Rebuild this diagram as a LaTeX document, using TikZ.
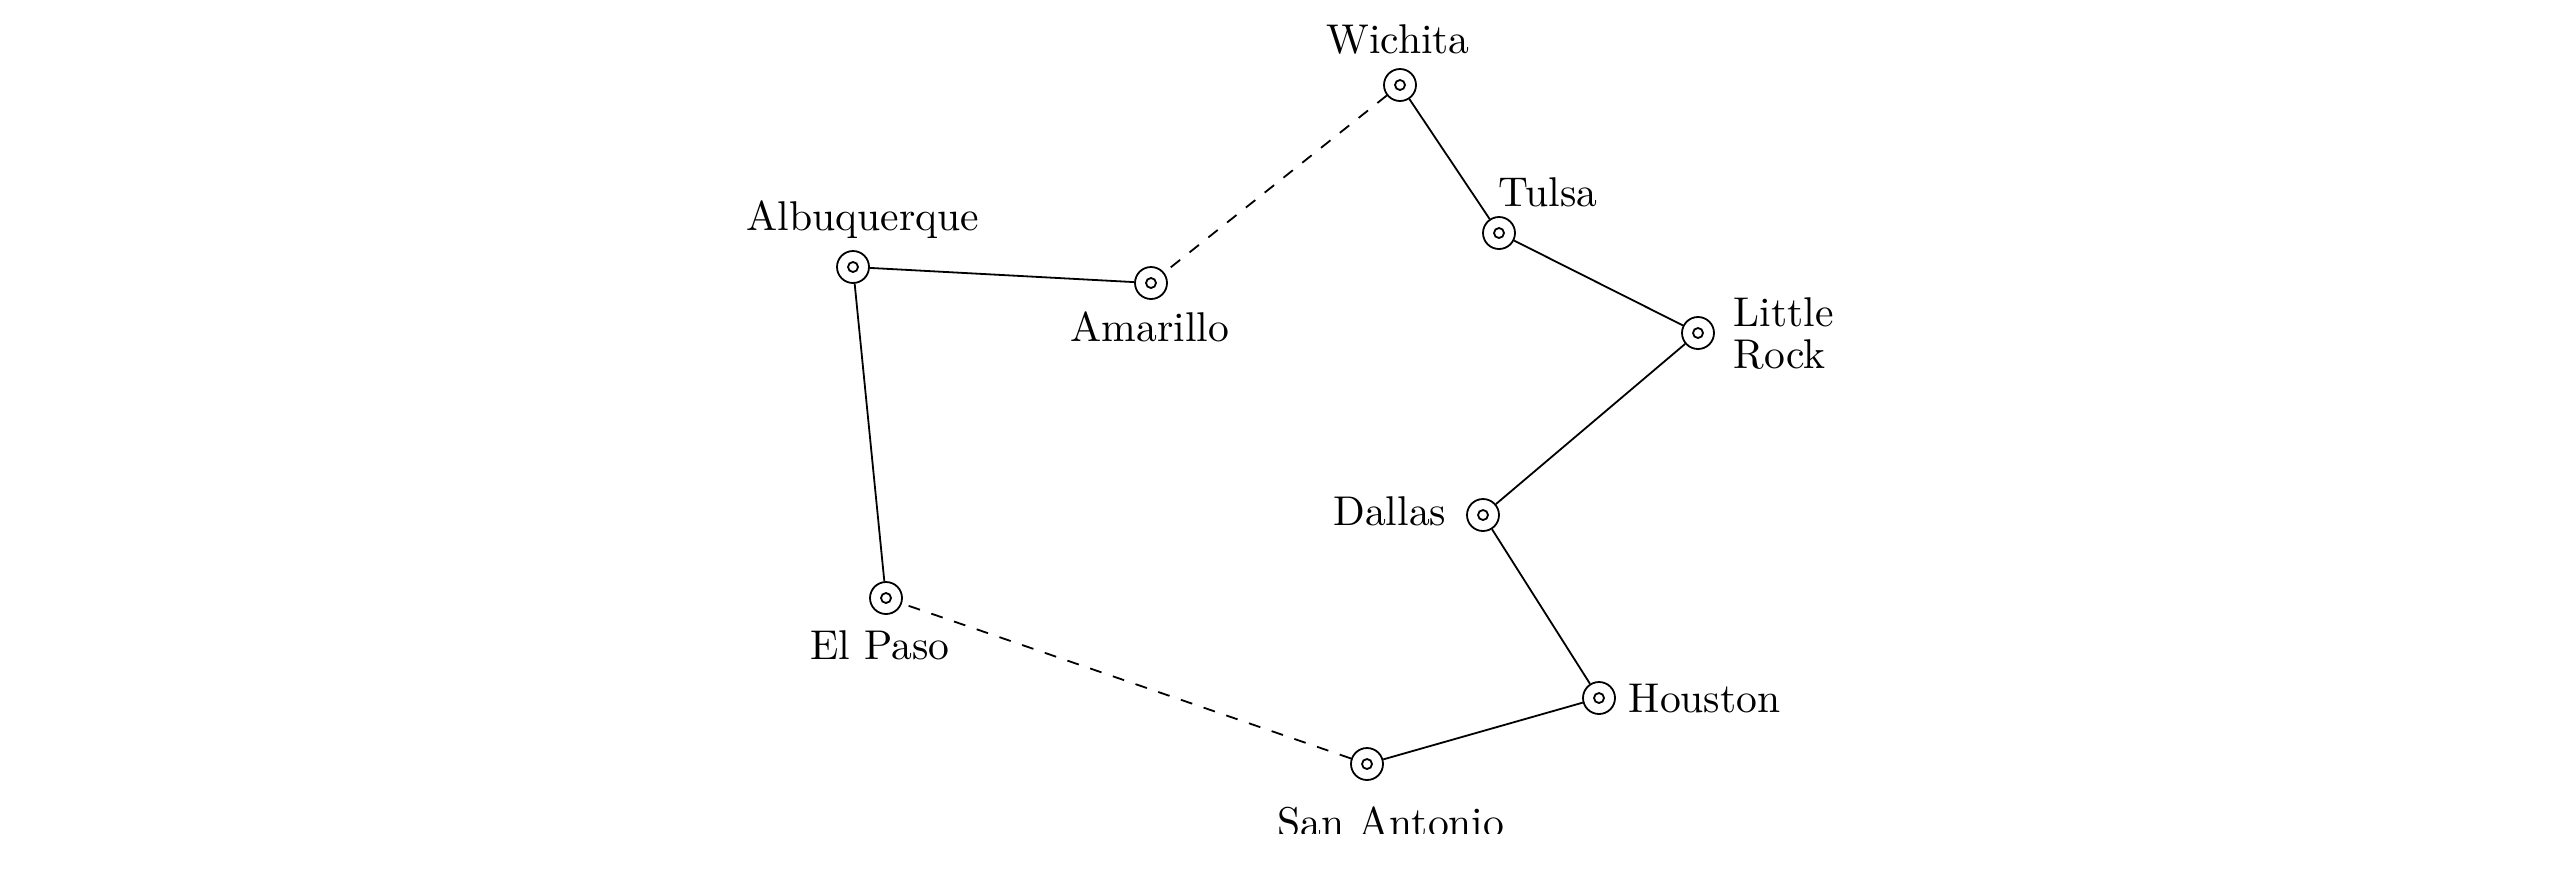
\documentclass[tikz,border=0pt]{standalone}
\begin{document}
\begin{tikzpicture}[x=0.25pt,y=-0.25pt,
  city/.style={circle,draw,line width=0.45pt,minimum size=8pt,inner sep=0pt,
    path picture={\draw[line width=0.45pt] (path picture bounding box.center) circle (1.25pt);}},
  lbl/.style={inner sep=0pt,font=\fontsize{10.4}{10.5}\selectfont},
  road/.style={line width=0.45pt},
  gap/.style={road,dashed}]
\useasboundingbox (0,0) rectangle (2572,880);
\begin{scope}
\clip (0,0) rectangle (2572,833);
% cities
\node[city] (wic) at (1400,85) {};
\node[city] (tul) at (1499,233) {};
\node[city] (lr)  at (1698,333) {};
\node[city] (alb) at (853,267) {};
\node[city] (ama) at (1151,283) {};
\node[city] (elp) at (886,598) {};
\node[city] (dal) at (1483,515) {};
\node[city] (hou) at (1599,698) {};
\node[city] (san) at (1367,764) {};
% labels
\node[lbl,anchor=base] (wicl) at (1398,53) {Wichita};
\node[lbl,anchor=base west] (tull) at (1498,206) {Tulsa};
\node[lbl,anchor=north west,align=left] (lrl) at (1733,297) {Little\\Rock};
\node[lbl,anchor=base] (albl) at (863,230) {Albuquerque};
\node[lbl,anchor=base] (amal) at (1150,341) {Amarillo};
\node[lbl,anchor=base east] (dall) at (1447,525) {Dallas};
\node[lbl,anchor=base] (elpl) at (880,659) {El Paso};
\node[lbl,anchor=base west] (houl) at (1628,712) {Houston};
\node[lbl,anchor=base] (sanl) at (1391,836) {San Antonio};
% roads
\draw[gap]  (wic) -- (ama);
\draw[road] (wic) -- (tul);
\draw[road] (tul) -- (lr);
\draw[road] (lr) -- (dal);
\draw[road] (dal) -- (hou);
\draw[road] (hou) -- (san);
\draw[gap]  (san) -- (elp);
\draw[road] (elp) -- (alb);
\draw[road] (alb) -- (ama);
\end{scope}
\end{tikzpicture}
\end{document}
